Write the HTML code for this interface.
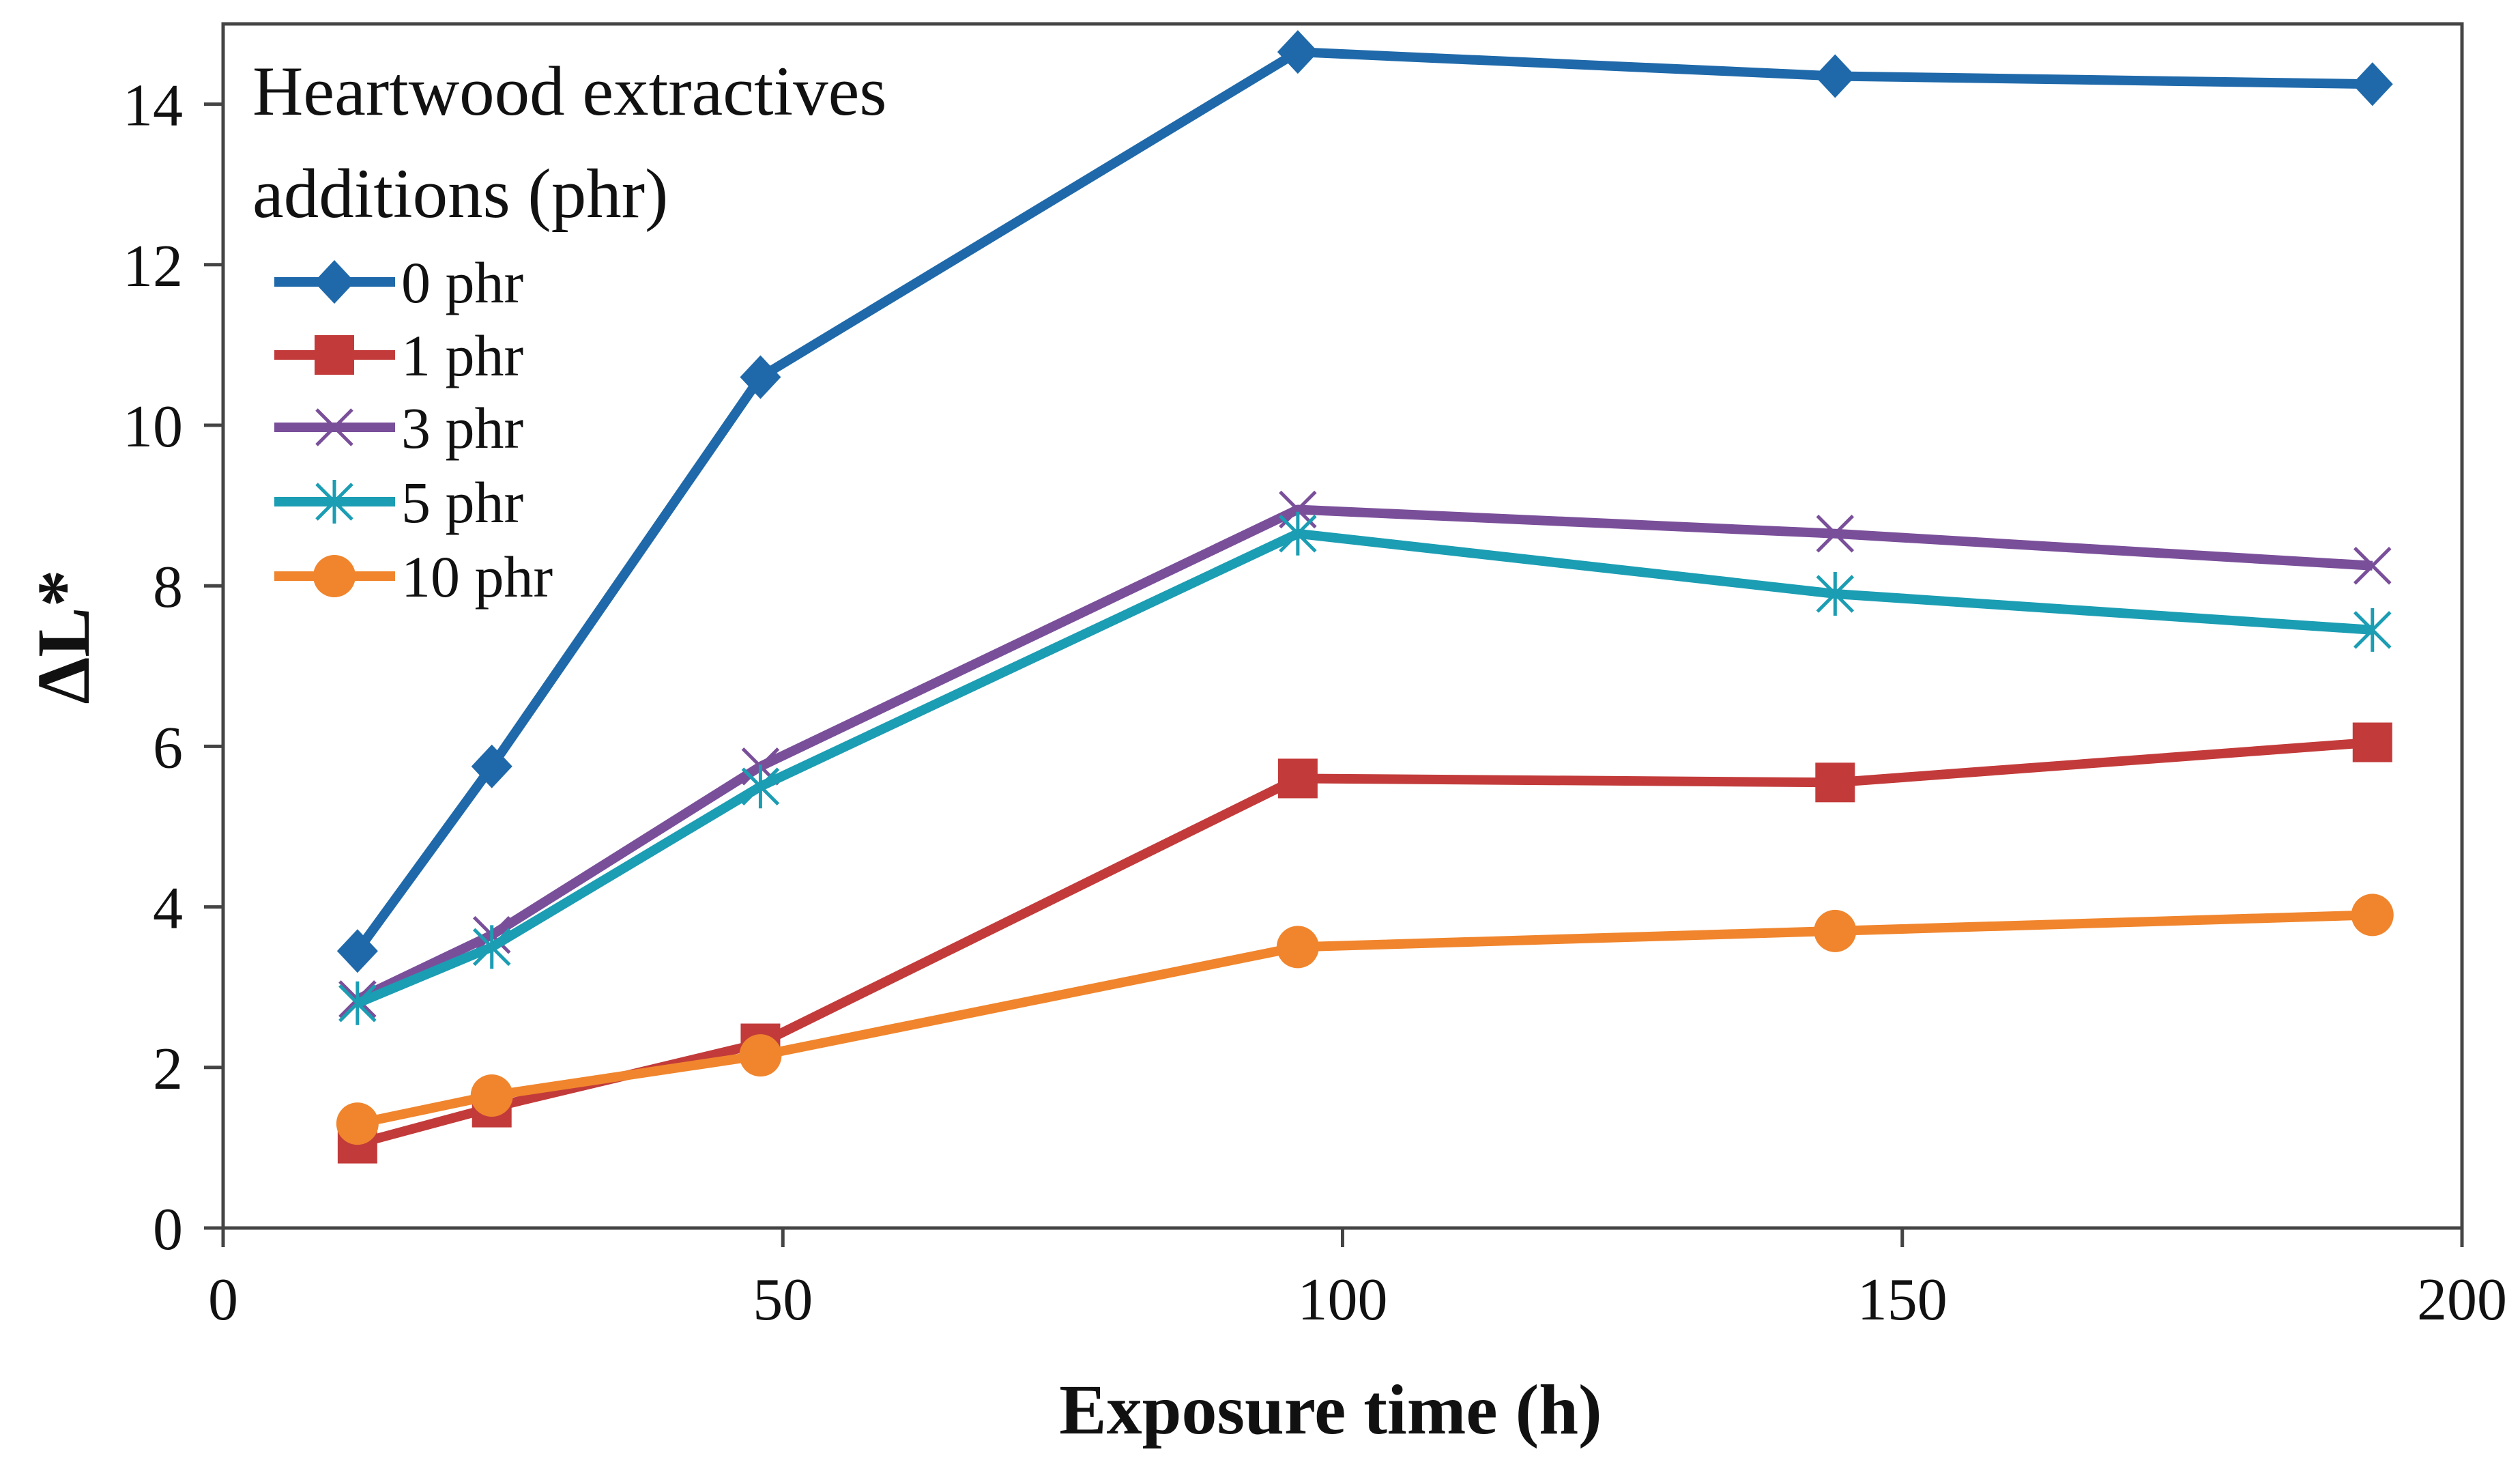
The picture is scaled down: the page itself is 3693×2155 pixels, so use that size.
<!DOCTYPE html>
<html><head><meta charset="utf-8"><style>
html,body{margin:0;padding:0;background:#fff}
svg{display:block;font-family:"Liberation Serif",serif}
</style></head><body>
<svg id="chart" width="3693" height="2155" viewBox="0 0 3693 2155" xmlns="http://www.w3.org/2000/svg">
<g id="axes"></g><g id="series"></g><g id="legend"></g>
</svg>
<script>
const xValues=[12,24,48,96,144,192];
const s0=[3.45,5.75,10.6,14.65,14.35,14.25];
const s1=[1.05,1.5,2.3,5.6,5.55,6.05];
const s3=[2.85,3.65,5.75,8.95,8.65,8.25];
const s5=[2.8,3.5,5.5,8.65,7.9,7.45];
const s10=[1.3,1.65,2.15,3.5,3.7,3.9];
const seriesNames=["0 phr","1 phr","3 phr","5 phr","10 phr"];
const xTicks=[0,50,100,150,200];
const yTicks=[0,2,4,6,8,10,12,14];

const NS="http://www.w3.org/2000/svg";
const L=327,R=3608,T=35,B=1799;
function sx(v){return L+(v-0)/200*(R-L);}
function sy(v){return B-v/15*(B-T);}
function mk(tag,attrs,parent){const e=document.createElementNS(NS,tag);for(const k in attrs)e.setAttribute(k,attrs[k]);parent.appendChild(e);return e;}
const axes=document.getElementById('axes'),ser=document.getElementById('series'),leg=document.getElementById('legend');

const frame=mk('rect',{x:L,y:T,width:R-L,height:B-T,fill:'none',stroke:'#444',"stroke-width":5},axes);


xTicks.forEach(t=>{
  const ln=mk('line',{x1:sx(t),x2:sx(t),y1:B,y2:B+28,stroke:'#444',"stroke-width":5},axes);
  
  
  const tx=mk('text',{x:sx(t),y:1933,"text-anchor":"middle","font-size":88,fill:'#111'},axes);
  tx.textContent=t;
  
  
});
yTicks.forEach(t=>{
  const ln=mk('line',{x1:L-28,x2:L,y1:sy(t),y2:sy(t),stroke:'#444',"stroke-width":5},axes);
  
  
  const tx=mk('text',{x:268,y:sy(t)+31,"text-anchor":"end","font-size":88,fill:'#111'},axes);
  tx.textContent=t;
  
  
});
const xt=mk('text',{x:1950,y:2100,"text-anchor":"middle","font-size":104,"font-weight":"bold",fill:'#111'},axes);
xt.textContent="Exposure time (h)";


const yt=mk('text',{x:0,y:0,"text-anchor":"middle","font-size":110,"font-weight":"bold",fill:'#111',transform:'translate(130,933) rotate(-90)'},axes);
yt.textContent="ΔL*";



const colors=['#1f69aa','#c23b3a','#7a4f9a','#1b9db3','#f0852d'];
const markers=['diamond','square','x','star','circle'];
const data=[s0,s1,s3,s5,s10];
function marker(type,x,y,c,p){
  if(type==='diamond')return mk('polygon',{points:`${x},${y-32} ${x+30},${y} ${x},${y+32} ${x-30},${y}`,fill:c},p);
  if(type==='square')return mk('rect',{x:x-29,y:y-29,width:58,height:58,fill:c},p);
  if(type==='circle')return mk('circle',{cx:x,cy:y,r:31,fill:c},p);
  const g=mk('g',{stroke:c,"stroke-width":5,fill:'none'},p);
  const d=26;
  mk('line',{x1:x-d,y1:y-d,x2:x+d,y2:y+d},g);mk('line',{x1:x-d,y1:y+d,x2:x+d,y2:y-d},g);
  if(type==='star'){mk('line',{x1:x,y1:y-32,x2:x,y2:y+32},g);}
  return g;
}
data.forEach((arr,i)=>{
  const g=mk('g',{},ser);
  
  
  const pts=arr.map((v,j)=>sx(xValues[j])+','+sy(v)).join(' ');
  const pl=mk('polyline',{points:pts,fill:'none',stroke:colors[i],"stroke-width":14,"stroke-linejoin":"round"},g);
  
  
  arr.forEach((v,j)=>{
    const m=marker(markers[i],sx(xValues[j]),sy(v),colors[i],g);
    
    
  });
});
const lt1=mk('text',{x:370,y:168,"font-size":103,fill:'#111'},leg);
lt1.textContent="Heartwood extractives";


const lt2=mk('text',{x:370,y:318,"font-size":103,fill:'#111'},leg);
lt2.textContent="additions (phr)";


const ly=[413,520,626,735,844];
seriesNames.forEach((n,i)=>{
  const g=mk('g',{},leg);
  
  
  mk('line',{x1:402,x2:579,y1:ly[i],y2:ly[i],stroke:colors[i],"stroke-width":14},g);
  marker(markers[i],490,ly[i],colors[i],g);
  const t=mk('text',{x:588,y:ly[i]+30,"font-size":86,fill:'#111'},g);
  t.textContent=n;
});
</script>
</body></html>
